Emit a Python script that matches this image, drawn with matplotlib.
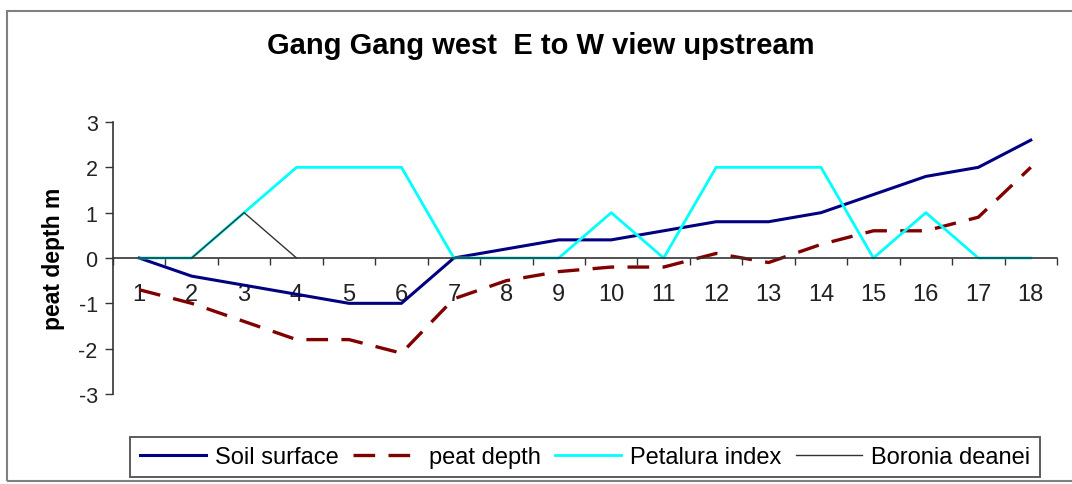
import numpy as np
import matplotlib.pyplot as plt
import matplotlib.patches as mpatches

plt.rcParams['font.family'] = ['Liberation Sans', 'DejaVu Sans']
plt.rcParams['axes.unicode_minus'] = False

# Survey points along the transect
points = list(range(1, 19))
soil_surface = [0, -0.4, -0.6, -0.8, -1.0, -1.0, 0, 0.2, 0.4, 0.4, 0.6, 0.8, 0.8, 1.0, 1.4, 1.8, 2.0, 2.6]
peat_depth = [-0.7, -1.0, -1.4, -1.8, -1.8, -2.1, -0.9, -0.5, -0.3, -0.2, -0.2, 0.1, -0.1, 0.3, 0.6, 0.6, 0.9, 2.0]
petalura_index = [0, 0, 1, 2, 2, 2, 0, 0, 0, 1, 0, 2, 2, 2, 0, 1, 0, 0]
boronia_deanei = [np.nan, 0, 1, 0] + [np.nan] * 14

fig = plt.figure(figsize=(10.72, 4.85), dpi=100)
ax = fig.add_axes([113 / 1072, 1 - 395 / 485, (1057 - 113) / 1072, (395 - 123) / 485])

# outer chart frame
fig.patches.append(mpatches.Rectangle((7 / 1072, 3 / 485), 1075 / 1072, 470 / 485,
                                      transform=fig.transFigure, fill=False,
                                      edgecolor="#808080", linewidth=1.5))

ax.plot(points, soil_surface, color="#000080", linewidth=2.2, label="Soil surface")
ax.plot(points, peat_depth, color="#800000", linewidth=2.4, linestyle=(0, (6.5, 4)), label="peat depth")
ax.plot(points, petalura_index, color="#00FFFF", linewidth=2.0, label="Petalura index")
ax.plot(points, boronia_deanei, color="#333333", linewidth=1.0, label="Boronia deanei")

ax.set_xlim(0.5, 18.5)
ax.set_ylim(-3, 3)
ax.set_yticks([-3, -2, -1, 0, 1, 2, 3])
ax.set_xticks(points)
ax.set_xticklabels([str(p) for p in points])
ax.set_xticks(np.arange(0.5, 19, 1), minor=True)
ax.tick_params(axis="x", which="major", length=0, labelsize=17, pad=18, labelcolor="#222222")
ax.tick_params(axis="x", which="minor", length=5, direction="out", width=1, color="#333333")
ax.tick_params(axis="y", length=6, width=1, labelsize=15.5, pad=5, color="#333333", labelcolor="#222222")

for s in ["top", "right"]:
    ax.spines[s].set_visible(False)
ax.spines["bottom"].set_position(("data", 0))
ax.spines["left"].set_color("#333333")
ax.spines["bottom"].set_color("#333333")
ax.spines["left"].set_linewidth(1.2)
ax.spines["bottom"].set_linewidth(1.2)

ax.set_ylabel("peat depth m", fontsize=16.5, fontweight="bold", labelpad=10)
fig.text(541 / 1072, 1 - 46 / 485, "Gang Gang west  E to W view upstream",
         ha="center", va="center", fontsize=21, fontweight="bold")

leg = fig.legend(loc="center", bbox_to_anchor=(585 / 1072, 1 - 458 / 485), ncol=4,
                 fontsize=17, frameon=True, fancybox=False, edgecolor="#333333",
                 handlelength=2.8, columnspacing=0.6, handletextpad=0.4,
                 borderpad=0.4, borderaxespad=0)
leg.get_frame().set_linewidth(1.4)

fig.savefig("out.png", dpi=100)
